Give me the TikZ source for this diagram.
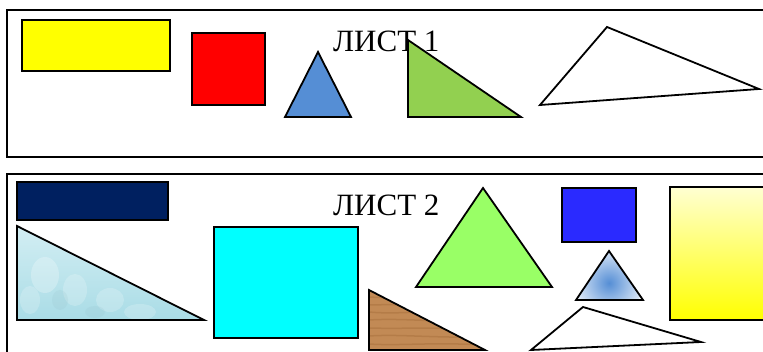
\documentclass[tikz,border=0pt]{standalone}
\usepackage{fontspec}
\setmainfont{Liberation Serif}
\begin{document}
\begin{tikzpicture}[x=1pt,y=-1pt,
  frame/.style={draw=black,line width=1.8pt},
  shp/.style={draw=black,line width=1.8pt,line join=miter},
  label/.style={anchor=base west,inner sep=0pt,font=\fontsize{31}{31}\selectfont}]
\definecolor{yel}{RGB}{255,255,0}
\definecolor{rd}{RGB}{255,0,0}
\definecolor{cyn}{RGB}{0,255,255}
\definecolor{tri1}{HTML}{558ED5}
\definecolor{grn1}{HTML}{92D050}
\definecolor{navy}{HTML}{002060}
\definecolor{grn2}{HTML}{99FF66}
\definecolor{blu2}{HTML}{2A2AFF}
\definecolor{wood}{HTML}{C28A55}
\definecolor{wooddk}{HTML}{A86F3C}
\definecolor{ice}{HTML}{A9DCE6}
\definecolor{icelt}{HTML}{D3EEF3}
\definecolor{yellt}{RGB}{255,255,210}
\useasboundingbox (0,0) rectangle (763,352);
\fill[white] (0,0) rectangle (763,352);
\clip (0,0) rectangle (763,352);
% sheet 1
\draw[frame] (7,10) rectangle (775,157);
\draw[shp,fill=yel] (22,20) rectangle (170,71);
\draw[shp,fill=rd] (192,33) rectangle (265,105);
\draw[shp,fill=tri1] (318,52) -- (351,117) -- (285,117) -- cycle;
\node[label] (l1) at (333,52) {ЛИСТ 1};
\draw[shp,fill=grn1] (408,40) -- (521,117) -- (408,117) -- cycle;
\draw[shp,fill=white] (540,105) -- (607,27) -- (759,89) -- cycle;
% sheet 2
\draw[frame] (7,174) rectangle (775,360);
\draw[shp,fill=navy] (17,182) rectangle (168,220);
% textured ice triangle
\begin{scope}
  \clip (17,226) -- (204,320) -- (17,320) -- cycle;
  \fill[top color=icelt,bottom color=ice] (17,226) rectangle (204,320);
  \fill[white,opacity=0.25] (45,275) ellipse (14 and 18);
  \fill[white,opacity=0.2] (75,290) ellipse (12 and 16);
  \fill[white,opacity=0.2] (110,300) ellipse (14 and 12);
  \fill[white,opacity=0.2] (30,300) ellipse (10 and 14);
  \fill[white,opacity=0.2] (140,312) ellipse (16 and 8);
  \fill[ice!85!black,opacity=0.15] (60,300) ellipse (8 and 10);
  \fill[ice!85!black,opacity=0.15] (95,312) ellipse (10 and 6);
\end{scope}
\draw[shp] (17,226) -- (204,320) -- (17,320) -- cycle;
\draw[shp,fill=cyn] (214,227) rectangle (358,338);
% wood triangle
\begin{scope}
  \clip (369,290) -- (485,350) -- (369,350) -- cycle;
  \fill[wood] (369,290) rectangle (485,352);
  \foreach \yy/\dd in {297/2,305/-1,312/3,320/-2,328/1,336/-2,344/2}{
    \draw[wooddk,line width=1.5pt,opacity=0.5] (369,\yy) .. controls (400,\yy+\dd) and (430,\yy-\dd) .. (485,\yy+1);
  }
\end{scope}
\draw[shp] (369,290) -- (485,350) -- (369,350) -- cycle;
\node[label] (l2) at (333,216) {ЛИСТ 2};
\draw[shp,fill=grn2] (483,188) -- (552,287) -- (416,287) -- cycle;
\draw[shp,fill=blu2] (562,188) rectangle (636,242);
% gradient triangle
\begin{scope}
  \clip (609,251) -- (643,300) -- (576,300) -- cycle;
  \shade[inner color=tri1,outer color=white!80!tri1] (609,283) circle (34);
\end{scope}
\draw[shp] (609,251) -- (643,300) -- (576,300) -- cycle;
\shade[top color=yellt,bottom color=yel] (670,187) rectangle (775,320);
\draw[shp] (670,187) rectangle (775,320);
\draw[shp,fill=white] (531,350) -- (583,307) -- (701,342) -- cycle;
\end{tikzpicture}
\end{document}
